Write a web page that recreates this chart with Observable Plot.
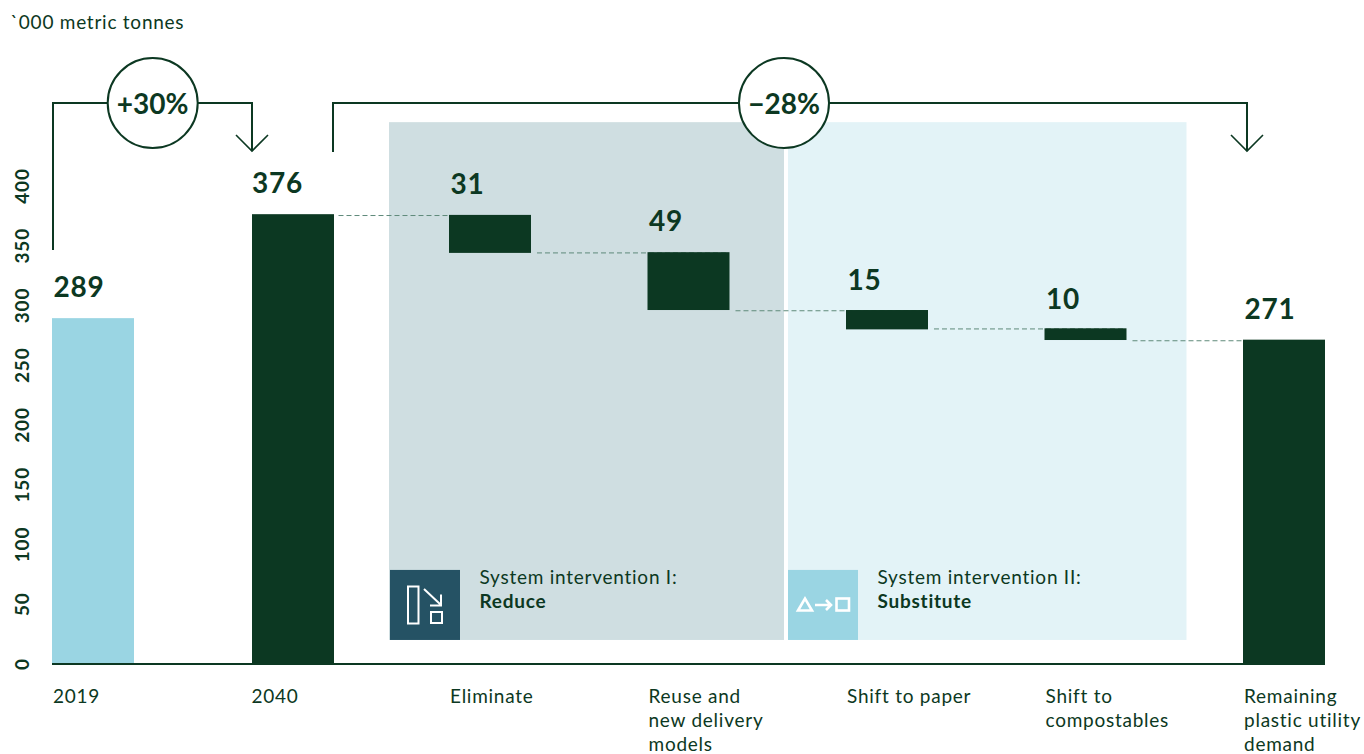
<!DOCTYPE html>
<html><head><meta charset="utf-8">
<script src="https://cdn.jsdelivr.net/npm/d3@7"></script>
<script src="https://cdn.jsdelivr.net/npm/@observablehq/plot@0.6"></script>
<style>html,body{margin:0;padding:0;background:#fff;overflow:hidden}svg{display:block}</style>
</head><body><div id="chart"></div>
<script>
const categories = ["2019","2040","Eliminate","Reuse","Paper","Compost","Remaining"];
const tickLabels = ["2019","2040","Eliminate","Reuse and\nnew delivery\nmodels","Shift to paper","Shift to\ncompostables","Remaining\nplastic utility\ndemand"];
const totalCats = ["2019","2040","Remaining"];
const totalVals = [289,376,271];
const stepCats = ["Eliminate","Reuse","Paper","Compost"];
const stepUpper = [375.4,344.2,295.8,280.5];
const stepLower = [343.6,295.8,279.6,270.7];
const stepVals = [31,49,15,10];
const connFrom = ["2040","Eliminate","Reuse","Paper","Compost"];
const connTo = ["Eliminate","Reuse","Paper","Compost","Remaining"];
const connY = [375.3,344,295.6,280.4,270.5];
const yTicks = [0,50,100,150,200,250,300,350,400];
const DARK="#0c3822", LIGHT="#9ad5e3";
const FONT="Lato, sans-serif";
const totals = totalCats.map((c,i)=>({c,v:totalVals[i]}));
const steps = stepCats.map((c,i)=>({c,u:stepUpper[i],l:stepLower[i],v:stepVals[i]}));
const conns = connFrom.map((a,i)=>({a,b:connTo[i],y:connY[i]}));

function annotations(index,{x,y}){
  const g=d3.create("svg:g").attr("fill","none").attr("stroke",DARK).attr("stroke-width",2);
  const L=c=>x(c);
  const b=x.bandwidth();
  const yB=y(469);
  const path=(d,sw)=>g.append("path").attr("d",d).attr("stroke-width",sw||2);
  // bracket +30%
  path(`M${L("2019")+1},${y(346)}V${yB}H${L("2040")+1.5}V150`);
  path(`M${L("2040")-14.5},135L${L("2040")+1.5},151L${L("2040")+17.5},135`,1.6);
  // bracket -28%
  const x2=L("2040")+b+0.5, x3=L("Remaining")+4;
  path(`M${x2},152V${yB}H${x3}V150`);
  path(`M${x3-16},135L${x3},151L${x3+16},135`,1.6);
  const circ=(cx,txt)=>{
    g.append("circle").attr("cx",cx).attr("cy",yB).attr("r",45).attr("fill","#fff");
    g.append("text").attr("x",cx).attr("y",yB+1).attr("dy","0.35em").attr("text-anchor","middle")
      .attr("letter-spacing",0).attr("fill",DARK).attr("stroke","none").attr("font-family",FONT).attr("font-weight",700).attr("font-size",28).text(txt);
  };
  circ(L("2019")+100.7,"+30%");
  circ(L("Reuse")+136.5,"\u221228%");
  // icon I
  const ix=L("Eliminate"), iy=y(0);
  const A=g.append("g").attr("stroke","#fff").attr("stroke-width",2);
  A.append("rect").attr("x",ix-41).attr("y",iy-77).attr("width",10.5).attr("height",37);
  A.append("rect").attr("x",ix-18).attr("y",iy-51.5).attr("width",11).attr("height",11);
  A.append("path").attr("d",`M${ix-25},${iy-74.5}L${ix-8},${iy-58.5}M${ix-8},${iy-69}V${iy-58}H${ix-19}`);
  // icon II
  const jx=L("Paper"), B=g.append("g").attr("stroke","#fff").attr("stroke-width",2.6);
  B.append("path").attr("d",`M${jx-48},${iy-53}L${jx-41},${iy-65}L${jx-34},${iy-53}Z`);
  B.append("path").attr("d",`M${jx-31},${iy-58.5}H${jx-15}M${jx-20},${iy-63.5}L${jx-15},${iy-58.5}L${jx-20},${iy-53.5}`);
  B.append("rect").attr("x",jx-9.5).attr("y",iy-65).attr("width",12.5).attr("height",12);
  return g.node();
}

const chart = Plot.plot({
  width:1364,height:754,
  marginLeft:52,marginRight:39,marginTop:185.5,marginBottom:90.5,
  style:{fontFamily:FONT,background:"#fff",color:DARK,overflow:"visible",letterSpacing:"0.75px"},
  x:{type:"band",domain:categories,paddingInner:0.5869,paddingOuter:0,align:0,round:false},
  y:{domain:[0,400]},
  marks:[
    // panels
    Plot.rect([{a:"Eliminate",b:"Reuse"}],{x1:"a",x2:"b",y1:19.7,y2:453,fill:"#cfdee1",insetLeft:-60,insetRight:-54.5}),
    Plot.rect([{a:"Paper",b:"Compost"}],{x1:"a",x2:"b",y1:19.7,y2:453,fill:"#e3f3f7",insetLeft:-58,insetRight:-60}),
    Plot.rect([{a:"Eliminate",b:"Eliminate"}],{x1:"a",x2:"b",y1:19.7,y2:78.3,fill:"#255264",insetLeft:-59,insetRight:71}),
    Plot.rect([{a:"Paper",b:"Paper"}],{x1:"a",x2:"b",y1:19.7,y2:78.3,fill:LIGHT,insetLeft:-58,insetRight:70}),
    // connectors
    Plot.ruleY(conns,{x1:"a",x2:"b",y:"y",stroke:"#5f8a7a",strokeWidth:1,strokeDasharray:"5,3",insetLeft:88,insetRight:2}),
    // bars
    Plot.barY(totals.filter(d=>d.c==="2019"),{x:"c",y:"v",fill:LIGHT}),
    Plot.barY(totals.filter(d=>d.c==="2040"),{x:"c",y:"v",fill:DARK,dx:1.5}),
    Plot.barY(totals.filter(d=>d.c==="Remaining"),{x:"c",y:"v",fill:DARK}),
    Plot.barY(steps,{x:"c",y1:"l",y2:"u",fill:DARK}),
    Plot.ruleY([0],{stroke:DARK,strokeWidth:2}),
    // value labels
    Plot.text(totals,{x:"c",y:"v",text:"v",dx:-40,dy:-30.5,textAnchor:"start",fontSize:28,fontWeight:700,fill:DARK}),
    Plot.text(steps.filter(d=>d.v>=31),{x:"c",y:"u",text:"v",dx:-40,dy:-30.5,textAnchor:"start",fontSize:28,fontWeight:700,fill:DARK}),
    Plot.text(steps.filter(d=>d.v<31),{x:"c",y:"u",text:"v",dx:-40,dy:-29,textAnchor:"start",fontSize:28,fontWeight:700,fill:DARK}),
    // intervention text
    Plot.text(["System intervention I:"],{x:()=>"Eliminate",y:()=>72.4,dx:-11,textAnchor:"start",fontSize:19,fill:DARK}),
    Plot.text(["Reduce"],{x:()=>"Eliminate",y:()=>52.3,dx:-11,textAnchor:"start",fontSize:19,fontWeight:700,fill:DARK}),
    Plot.text(["System intervention II:"],{x:()=>"Paper",y:()=>72.4,dx:-10,textAnchor:"start",fontSize:19,fill:DARK}),
    Plot.text(["Substitute"],{x:()=>"Paper",y:()=>52.3,dx:-10,textAnchor:"start",fontSize:19,fontWeight:700,fill:DARK}),
    annotations,
    Plot.text(["`000 metric tonnes"],{frameAnchor:"top-left",dx:-42,dy:-171,textAnchor:"start",fontSize:19,fill:DARK}),
    // axes
    Plot.axisY({ticks:yTicks,tickSize:0,label:null,anchor:"left",tickRotate:-90,dx:-15,textAnchor:"middle",fontSize:19,fontWeight:700,fill:DARK}),
    Plot.axisX({anchor:"bottom",tickSize:0,label:null,tickFormat:(d,i)=>tickLabels[categories.indexOf(d)],textAnchor:"start",dx:-40.5,tickPadding:22,fontSize:19,lineHeight:1.26,lineAnchor:"top",fill:DARK})
  ]
});
document.getElementById("chart").append(chart);
</script></body></html>
